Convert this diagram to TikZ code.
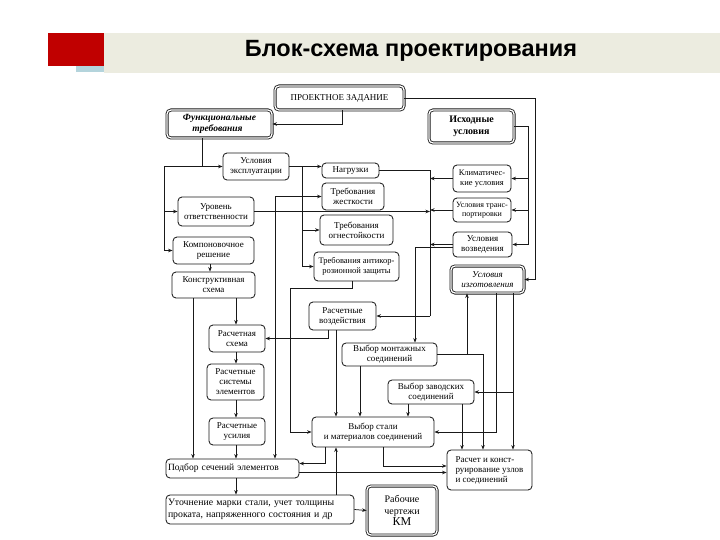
\documentclass[tikz,border=0pt]{standalone}
\usepackage{fontspec}
\setmainfont{Liberation Serif}
\newfontfamily\titlefont{Liberation Sans}
\usetikzlibrary{arrows.meta,calc}
\definecolor{bannerred}{HTML}{C00000}
\definecolor{bannerbg}{HTML}{ECECE0}
\definecolor{bannerblue}{HTML}{B4D4DC}
\begin{document}
\begin{tikzpicture}[x=1pt,y=-1pt,
  box/.style={draw=black!90, line width=0.85pt, rounded corners=4pt, align=center, inner sep=1pt, font=\fontsize{9}{10}\selectfont, fill=white},
  dbox/.style={box, double, double distance=1.3pt},
  arr/.style={-{Stealth[length=4.5pt,width=3.5pt]}},
  ln/.style={draw=black!90, line width=0.75pt}]
\useasboundingbox (0,0) rectangle (720,540);
\fill[white] (0,0) rectangle (720,540);
% banner
\fill[bannerbg] (104,33) rectangle (720,73);
\fill[bannerred] (48,33) rectangle (104,66);
\fill[bannerblue] (76,66) rectangle (104,72);
\node[font=\titlefont\bfseries\fontsize{23.5}{26}\selectfont] (title) at (411,51) {Блок-схема проектирования};
% boxes
\node[dbox, minimum width=129pt, minimum height=24pt] (pz) at (339.5,98) {ПРОЕКТНОЕ ЗАДАНИЕ};
\node[dbox, minimum width=105pt, minimum height=28pt, align=left, font=\bfseries\itshape\fontsize{9.5}{10.5}\selectfont] (fun) at (219.5,124) {Функциональные\\\quad требования};
\node[dbox, minimum width=85pt, minimum height=33pt, font=\bfseries\fontsize{10}{11.5}\selectfont] (ish) at (471.5,126.5) {Исходные\\условия};
\node[box, minimum width=66pt, minimum height=27pt] (ekspl) at (256,166.5) {Условия\\эксплуатации};
\node[box, minimum width=57pt, minimum height=15pt] (nagr) at (350.5,170.5) {Нагрузки};
\node[box, minimum width=62pt, minimum height=27pt] (zhest) at (353,196.5) {Требования\\жесткости};
\node[box, minimum width=58pt, minimum height=27pt, font=\fontsize{8.5}{10}\selectfont] (klim) at (482,178.5) {Климатичес-\\кие условия};
\node[box, minimum width=76pt, minimum height=29pt] (uroven) at (216,211.5) {Уровень\\ответственности};
\node[box, minimum width=58pt, minimum height=24pt, font=\fontsize{8}{9.5}\selectfont] (transp) at (482,210) {Условия транс-\\портировки};
\node[box, minimum width=73pt, minimum height=30pt] (ogn) at (356.5,230) {Требования\\огнестойкости};
\node[box, minimum width=59pt, minimum height=25pt] (vozv) at (482.5,244.5) {Условия\\возведения};
\node[box, minimum width=81pt, minimum height=27pt] (komp) at (213.5,250.5) {Компоновочное\\решение};
\node[box, minimum width=85pt, minimum height=29pt, font=\fontsize{8.5}{10}\selectfont] (antik) at (356.5,266.5) {Требования антикор-\\розионной защиты};
\node[dbox, minimum width=73pt, minimum height=27pt, font=\itshape\fontsize{9}{10}\selectfont] (izg) at (487.5,279.5) {Условия\\изготовления};
\node[box, minimum width=83pt, minimum height=26pt] (konstr) at (213.5,285) {Конструктивная\\схема};
\node[box, minimum width=67pt, minimum height=28pt] (rv) at (342.5,316) {Расчетные\\воздействия};
\node[box, minimum width=56pt, minimum height=27pt] (rsch) at (237,338.5) {Расчетная\\схема};
\node[box, minimum width=95pt, minimum height=23pt] (mont) at (389.5,354.5) {Выбор монтажных\\соединений};
\node[box, minimum width=57pt, minimum height=36pt] (rsys) at (235.5,382) {Расчетные\\системы\\элементов};
\node[box, minimum width=86pt, minimum height=24pt] (zav) at (431,392) {Выбор заводских\\соединений};
\node[box, minimum width=56pt, minimum height=27pt] (rus) at (237,431.5) {Расчетные\\усилия};
\node[box, minimum width=122pt, minimum height=30pt] (stal) at (373,432) {Выбор стали\\и материалов соединений};
\node[box, minimum width=133pt, minimum height=19pt, align=left, text width=129pt, font=\fontsize{9.5}{10.5}\selectfont] (podb) at (232.5,468.5) {Подбор сечений элементов};
\node[box, minimum width=85pt, minimum height=40pt, align=left] (uzly) at (489.5,470) {Расчет и конст-\\руирование узлов\\ и соединений};
\node[box, minimum width=188pt, minimum height=29pt, align=left, text width=184pt, font=\fontsize{9.8}{11.5}\selectfont] (utoch) at (260,509.5) {Уточнение марки стали, учет толщины\\проката, напряженного состояния и др};
\node[dbox, minimum width=70pt, minimum height=49pt, font=\fontsize{10}{11.5}\selectfont] (km) at (402,510.5) {Рабочие\\чертежи\\{\fontsize{12}{14}\selectfont КМ}};
% x positions of connector runs
\coordinate (xa) at (342,0);
\coordinate (xb) at (535,0);
\coordinate (xc) at (528,0);
\coordinate (xd) at (202,0);
\coordinate (xe) at (164,0);
\coordinate (xf) at (302,0);
\coordinate (xg) at (275,0);
\coordinate (xh) at (430,0);
\coordinate (xi) at (415,0);
\coordinate (xj) at (210,0);
\coordinate (xk) at (236,0);
\coordinate (xl) at (193,0);
\coordinate (xm) at (328,0);
\coordinate (xn) at (336,0);
\coordinate (xo) at (352,0);
\coordinate (xp) at (290,0);
\coordinate (xq) at (360,0);
\coordinate (xr) at (408,0);
\coordinate (xs) at (462,0);
\coordinate (xt) at (483,0);
\coordinate (xu) at (467,0);
\coordinate (xv) at (513,0);
\coordinate (xw) at (496,0);
\coordinate (xx) at (325,0);
\coordinate (xy) at (383,0);
\coordinate (ya) at (0,288);
% connectors
\draw[ln,arr] (xa |- pz.south) |- (fun.east);
\draw[ln,arr] (pz.east) -| (xb |- izg.east) -- (izg.east);
\draw[ln] (ish.east) -| (xc |- vozv.east);
\draw[ln,arr] (xc |- klim.east) -- (klim.east);
\draw[ln,arr] (xc |- transp.east) -- (transp.east);
\draw[ln,arr] (xc |- vozv.east) -- (vozv.east);
\draw[ln,arr] (xd |- fun.south) |- (ekspl.west);
\draw[ln] (xd |- ekspl.west) -| (xe |- komp.west);
\draw[ln,arr] (xe |- uroven.west) -- (uroven.west);
\draw[ln,arr] (xe |- komp.west) -- (komp.west);
\draw[ln,arr] (ekspl.east) -- (ekspl.east -| nagr.west);
\draw[ln] (xf |- ekspl.east) -- (xf |- antik.west);
\draw[ln,arr] (xf |- ogn.west) -- (ogn.west);
\draw[ln,arr] (xf |- antik.west) -- (antik.west);
\draw[ln,arr] (xg |- zhest.west) -- (zhest.west);
\draw[ln,arr] (xg |- zhest.west) -- (xg |- podb.north);
\draw[ln,arr] (uroven.east) -- (xh |- uroven.east);
\draw[ln] (nagr.east) -- (xh |- nagr.east) -- (xh |- rv.east);
\draw[ln,arr] (xh |- rv.east) -- (rv.east);
\draw[ln,arr] (klim.west) -- (xh |- klim.west);
\draw[ln,arr] (transp.west) -- (xh |- transp.west);
\draw[ln,arr] (vozv.west) -- (xh |- vozv.west);
\draw[ln,arr] ([yshift=-3pt]vozv.west) -| (xi |- mont.north);
\draw[ln,arr] (xj |- komp.south) -- (xj |- konstr.north);
\draw[ln,arr] (xk |- konstr.south) -- (xk |- rsch.north);
\draw[ln,arr] (xk |- rsch.south) -- (xk |- rsys.north);
\draw[ln,arr] (xk |- rsys.south) -- (xk |- rus.north);
\draw[ln,arr] (xk |- rus.south) -- (xk |- podb.north);
\draw[ln,arr] (xk |- podb.south) -- (xk |- utoch.north);
\draw[ln,arr] (xl |- konstr.south) -- (xl |- podb.north);
\draw[ln,arr] (xm |- rv.south) |- (rsch.east);
\draw[ln,arr] (xn |- rv.south) -- (xn |- stal.north);
\draw[ln,arr] (xo |- antik.south) -- (xo |- ya) -- (xp |- ya) -- (xp |- stal.west) -- (stal.west);
\draw[ln,arr] (xq |- mont.south) -- (xq |- stal.north);
\draw[ln,arr] (xr |- zav.south) -- (xr |- stal.north);
\draw[ln,arr] (xs |- zav.south) -- (xs |- uzly.north);
\draw[ln,arr] (mont.east) -| (xt |- uzly.north);
\draw[ln,arr] (xu |- mont.east) -- (xu |- izg.south);
\draw[ln,arr] (xv |- izg.south) -- (xv |- uzly.north);
\draw[ln,arr] (xv |- zav.east) -- (zav.east);
\draw[ln,arr] (xw |- izg.south) |- (stal.east);
\draw[ln,arr] (xx |- stal.south) |- ([yshift=5pt]podb.east);
\draw[ln,arr] (xy |- stal.south) |- ([yshift=4pt]uzly.west);
\draw[ln,arr] ([yshift=-4pt]podb.east) -- ([yshift=-4pt]podb.east -| uzly.west);
\draw[ln,arr] (xn |- utoch.north) -- (xn |- stal.south);
\draw[ln,arr] (utoch.east) -- (km.west);
\end{tikzpicture}
\end{document}
